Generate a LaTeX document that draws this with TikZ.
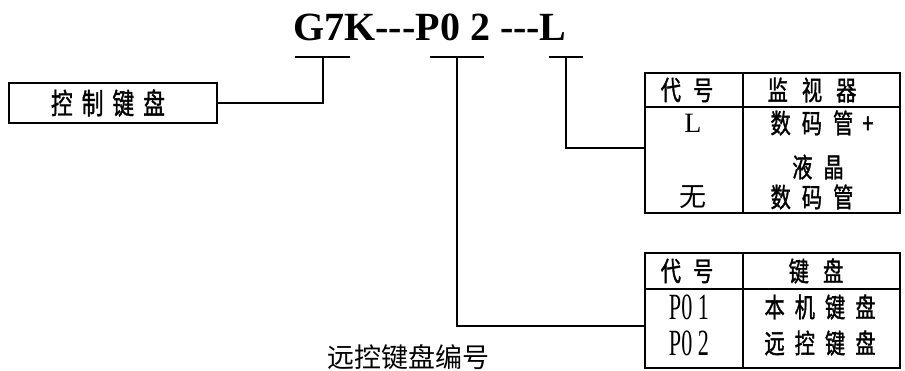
\documentclass[tikz,border=0pt]{standalone}
\usepackage{fontspec}
\usepackage{tikz}
\setmainfont{Liberation Serif}
\newfontfamily\titlefont{Liberation Serif}
\newfontfamily\narrowrm[FakeStretch=0.6]{Liberation Serif}
\newfontfamily\cjk{Noto Sans CJK SC}
\newfontfamily\cjkn[FakeStretch=0.75,FakeBold=1.2]{Noto Sans CJK SC}
\tikzset{line/.style={draw=black,line width=1.5pt},
  frame/.style={draw=black,line width=1.6pt,inner sep=0,rectangle},
  cn/.style={font=\cjkn\fontsize{27}{27}\selectfont,inner sep=0},
  rm/.style={font=\fontsize{28}{28}\selectfont,inner sep=0},
  code/.style={font=\narrowrm\fontsize{37}{37}\selectfont,inner sep=0}}

\begin{document}
\begin{tikzpicture}[x=1pt,y=-1pt]
  \useasboundingbox (0,0) rectangle (905,370);
  % model code
  \node[font=\titlefont\bfseries\fontsize{40}{40}\selectfont,anchor=base,inner sep=0] (model) at (430,40) {G7K---P0 2 ---L};
  \coordinate (uG) at (323,57);
  \coordinate (uP) at (457,57);
  \coordinate (uL) at (566,57);
  \draw[line] ([xshift=-28pt]uG) -- ([xshift=27pt]uG);
  \draw[line] ([xshift=-27pt]uP) -- ([xshift=27pt]uP);
  \draw[line] ([xshift=-17pt]uL) -- ([xshift=17pt]uL);
  % control keyboard box
  \node[frame,minimum width=208pt,minimum height=40pt] (kbd) at (113,103) {};
  \node[font=\cjkn\fontsize{29}{29}\selectfont,inner sep=0] (kbdtxt) at (108,103)
    {控\hspace{9pt}制\hspace{9pt}键\hspace{9pt}盘};
  % monitor table
  \node[frame,minimum width=255pt,minimum height=140pt] (mon) at (772.5,143) {};
  \draw[line] (743,73) -- (743,213);
  \draw[line] (645,107) -- (900,107);
  \node[cn] (monA) at (687,90) {代\hspace{12pt}号};
  \node[cn] (monB) at (812,90) {监\hspace{14pt}视\hspace{14pt}器};
  \node[rm] (monL) at (693,123) {L};
  \node[cn] (monLd) at (822,123) {数\hspace{11pt}码\hspace{11pt}管\hspace{9pt}+};
  \node[cn] (monLe) at (818,167) {液\hspace{11pt}晶};
  \node[font=\cjk\fontsize{27}{27}\selectfont,inner sep=0] (monN) at (693,197) {无};
  \node[cn] (monNd) at (812,197) {数\hspace{11pt}码\hspace{11pt}管};
  % keyboard table
  \node[frame,minimum width=255pt,minimum height=115pt] (key) at (772.5,310.5) {};
  \draw[line] (743,253) -- (743,368);
  \draw[line] (645,289) -- (900,289);
  \node[cn] (keyA) at (687,271) {代\hspace{12pt}号};
  \node[cn] (keyB) at (816,271) {键\hspace{14pt}盘};
  \node[code] (keyP1) at (689,307) {P0 1};
  \node[code] (keyP2) at (689,343) {P0 2};
  \node[cn] (keyP1d) at (820,307) {本\hspace{10pt}机\hspace{10pt}键\hspace{10pt}盘};
  \node[cn] (keyP2d) at (820,343) {远\hspace{10pt}控\hspace{10pt}键\hspace{10pt}盘};
  % connectors
  \draw[line] (uG) |- (kbd.east);
  \draw[line] (uL) |- ([yshift=-5pt]mon.west);
  \draw[line] (uP) |- ([yshift=-15.5pt]key.west);
  \node[font=\cjk\fontsize{27}{27}\selectfont,inner sep=0] (note) at (408,357) {远控键盘编号};
\end{tikzpicture}
\end{document}
